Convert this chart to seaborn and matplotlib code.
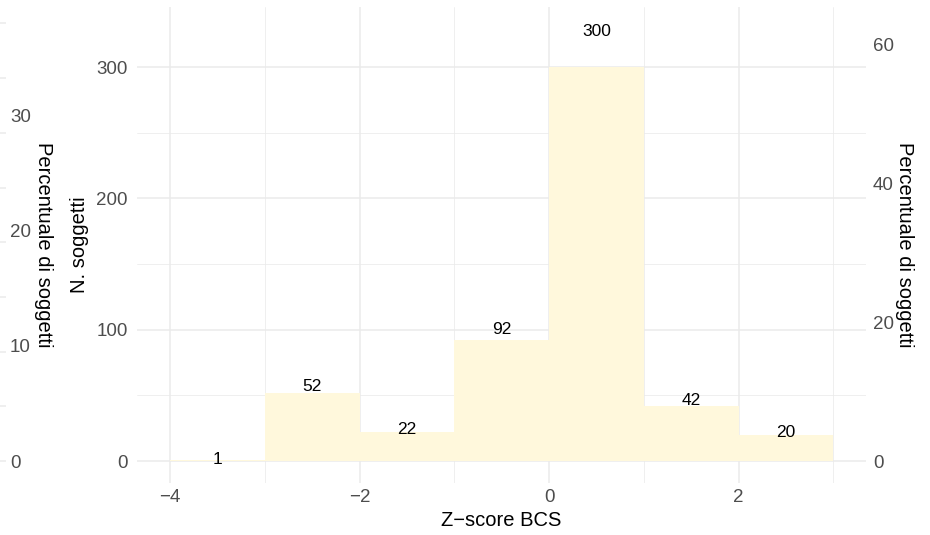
import numpy as np
import pandas as pd
import matplotlib
matplotlib.use("Agg")
import matplotlib.pyplot as plt
import seaborn as sns
from matplotlib.ticker import FixedLocator, MultipleLocator

# ---- data ----
bin_edges = [-4, -3, -2, -1, 0, 1, 2, 3]
counts = [1, 52, 22, 92, 300, 42, 20]
x_ticks = [-4, -2, 0, 2]
x_minor = [-3, -1, 1, 3]
count_ticks = [0, 100, 200, 300]
count_minor = [50, 150, 250]
pct_ticks = [0, 20, 40, 60]
outer_ticks = [0, 10, 20, 30]
x_title = "Z\u2212score BCS"
y_title = "N. soggetti"
pct_title = "Percentuale di soggetti"

total = sum(counts)
centers = [(a + b) / 2 for a, b in zip(bin_edges[:-1], bin_edges[1:])]
df = pd.DataFrame({"z": centers, "n": counts})

sns.set_style("white")
plt.rcParams["font.family"] = ["Liberation Sans", "DejaVu Sans"]

TICK_FS = 13.5
TITLE_FS = 14.5
LABEL_FS = 12.5
TICK_C = "#4D4D4D"

W, H = 930, 535
fig = plt.figure(figsize=(W / 100, H / 100), dpi=100)


def fx(px):
    return px / W


def fy(py):
    return 1 - py / H


pl, pr, pt, pb = 137, 866, 7, 483
ax = fig.add_axes([fx(pl), fy(pb), fx(pr - pl), (pb - pt) / H])

sns.histplot(data=df, x="z", weights="n", bins=bin_edges, color="#FFF8DC",
             alpha=1, edgecolor="none", linewidth=0, ax=ax)

ax.set_xlim(-4.35, 3.346)
ylim = (-16.75, 345.7)
ax.set_ylim(*ylim)
ax.set_axisbelow(True)
ax.xaxis.set_major_locator(FixedLocator(x_ticks))
ax.xaxis.set_minor_locator(FixedLocator(x_minor))
ax.yaxis.set_major_locator(FixedLocator(count_ticks))
ax.yaxis.set_minor_locator(FixedLocator(count_minor))
ax.grid(which="major", color="#EBEBEB", lw=1.1)
ax.grid(which="minor", color="#EBEBEB", lw=0.55)
for s in ax.spines.values():
    s.set_visible(False)
ax.tick_params(which="both", length=0)
ax.tick_params(axis="x", pad=4, labelsize=TICK_FS, labelcolor=TICK_C)
ax.tick_params(axis="y", pad=6.5, labelsize=TICK_FS, labelcolor=TICK_C)

ax.set_xlabel(x_title, fontsize=TITLE_FS, color="black")
ax.xaxis.set_label_coords(0.5, -(521 - pb) / (pb - pt))
ax.xaxis.label.set_va("center")
ax.set_ylabel(y_title, fontsize=TITLE_FS, color="black")
ax.yaxis.set_label_coords((80 - pl) / (pr - pl), 0.5)
ax.yaxis.label.set_va("center")

for c, n in zip(centers, counts):
    ax.text(c, n * 1.09, str(n), ha="center", va="center",
            fontsize=LABEL_FS, color="black")

# right percentage axis
sec = ax.secondary_yaxis("right", functions=(lambda c: c / total * 100,
                                              lambda p: p * total / 100))
sec.yaxis.set_major_locator(FixedLocator(pct_ticks))
sec.tick_params(length=0, pad=5, labelsize=TICK_FS, labelcolor=TICK_C)
for s in sec.spines.values():
    s.set_visible(False)
fig.text(fx(904), fy((pt + pb) / 2), pct_title, rotation=270, ha="center",
         va="center", fontsize=TITLE_FS, color="black")

# outer left percentage axis
outer_per_count = 0.11387
ax3 = fig.add_axes([fx(10), fy(pb), 0.0001, (pb - pt) / H])
ax3.set_ylim(ylim[0] * outer_per_count, ylim[1] * outer_per_count)
ax3.yaxis.tick_right()
ax3.yaxis.set_major_locator(FixedLocator(outer_ticks))
ax3.tick_params(length=0, pad=0, labelsize=TICK_FS, labelcolor=TICK_C)
ax3.set_xticks([])
ax3.patch.set_visible(False)
for s in ax3.spines.values():
    s.set_visible(False)
fig.text(fx(43), fy((pt + pb) / 2), pct_title, rotation=270, ha="center",
         va="center", fontsize=TITLE_FS, color="black")

# faint grid stubs at the far left edge
ax4 = fig.add_axes([0, fy(pb), fx(6), (pb - pt) / H])
ax4.set_ylim(*ylim)
ax4.yaxis.set_major_locator(MultipleLocator(41.65))
ax4.grid(axis="y", color="#EBEBEB", lw=1.1)
ax4.set_xticks([])
ax4.tick_params(length=0, labelleft=False)
ax4.patch.set_visible(False)
for s in ax4.spines.values():
    s.set_visible(False)

fig.savefig("out.png", dpi=100)
